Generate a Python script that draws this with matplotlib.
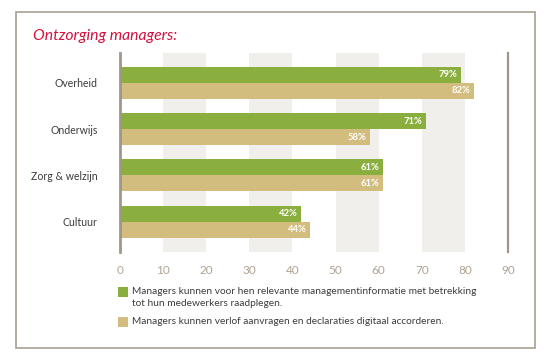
import matplotlib
matplotlib.use("Agg")
import matplotlib.pyplot as plt
from matplotlib.patches import Rectangle

categories = ["Overheid", "Onderwijs", "Zorg & welzijn", "Cultuur"]
mgmt_info = [79, 71, 61, 42]
verlof = [82, 58, 61, 44]
xticks = [0, 10, 20, 30, 40, 50, 60, 70, 80, 90]
title = "Ontzorging managers:"
legend_labels = [
    "Managers kunnen voor hen relevante managementinformatie met betrekking\ntot hun medewerkers raadplegen.",
    "Managers kunnen verlof aanvragen en declaraties digitaal accorderen.",
]

GREEN = "#8AAF3F"
TAN = "#D2BC7E"
BAND = "#F0EFEC"
FRAME = "#A89F94"
TICKC = "#B0A291"
TEXTC = "#3C3C3C"
FONT = "Lato"

W, H = 549, 360
fig = plt.figure(figsize=(W / 100, H / 100), dpi=100)
fig.patch.set_facecolor("white")

# outer frame
fig.patches.append(Rectangle((16 / W, 1 - 348 / H), (535 - 16) / W, (348 - 12) / H,
                             transform=fig.transFigure, fill=False, edgecolor=FRAME, linewidth=1.2))

fig.text(33 / W, 1 - 36 / H, title, color="#D3123E", fontsize=11.3, style="italic",
         family=FONT, va="center", ha="left")

ax = fig.add_axes([120 / W, 1 - 252 / H, 388 / W, 199 / H])
ax.set_xlim(0, 90)
ax.set_ylim(3.65, -0.64)

for lo in (10, 30, 50, 70):
    ax.axvspan(lo, lo + 10, color=BAND, zorder=0, linewidth=0)

bh = 0.345
ypos = list(range(len(categories)))
ax.barh([y - bh / 2 for y in ypos], mgmt_info, height=bh, color=GREEN, zorder=2)
ax.barh([y + bh / 2 for y in ypos], verlof, height=bh, color=TAN, zorder=2)

for y, v in zip(ypos, mgmt_info):
    ax.text(v - 0.8, y - bh / 2, f"{v}%", color="white", fontsize=6.8, fontweight="bold",
            ha="right", va="center", family=FONT, zorder=3)
for y, v in zip(ypos, verlof):
    ax.text(v - 0.8, y + bh / 2, f"{v}%", color="white", fontsize=6.8, fontweight="bold",
            ha="right", va="center", family=FONT, zorder=3)

ax.set_yticks(ypos)
ax.set_yticklabels(categories, family=FONT, fontsize=7.6, color=TEXTC)
ax.tick_params(axis="y", length=0, pad=16)
ax.set_xticks(xticks)
ax.set_xticklabels([str(t) for t in xticks], family=FONT, fontsize=8.5, color=TICKC)
ax.tick_params(axis="x", length=0, pad=9)

for s in ("top", "bottom"):
    ax.spines[s].set_visible(False)
ax.spines["left"].set_color("#A0968B")
ax.spines["left"].set_linewidth(2)
ax.spines["right"].set_color("#A0968B")
ax.spines["right"].set_linewidth(1.6)

# legend
for (ysq, col, lab, ytxt) in [(287, GREEN, legend_labels[0], 286.5), (317, TAN, legend_labels[1], 316.5)]:
    fig.patches.append(Rectangle((118 / W, 1 - (ysq + 10) / H), 10 / W, 10 / H,
                                 transform=fig.transFigure, facecolor=col, edgecolor="none"))
    fig.text(132 / W, 1 - ytxt / H, lab, fontsize=7.3, family=FONT, color=TEXTC,
             va="top", ha="left", linespacing=1.45)

fig.savefig("out.png", dpi=100, facecolor="white")
